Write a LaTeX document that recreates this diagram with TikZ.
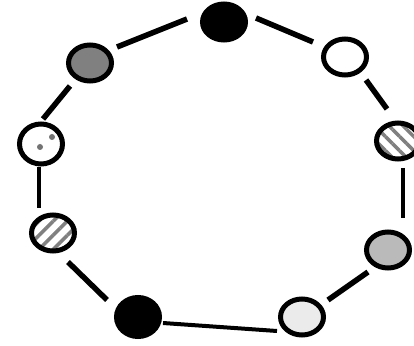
\documentclass[tikz,border=0pt]{standalone}
\usetikzlibrary{shapes.geometric,patterns.meta}
\begin{document}
\begin{tikzpicture}[x=1pt,y=1pt,
    bead/.style={ellipse, draw, line width=5pt, minimum width=43pt, minimum height=36pt, inner sep=0pt, outer sep=0pt},
    striped/.style={preaction={fill=white}, pattern={Lines[angle=#1,distance=10pt,line width=3.5pt]}, pattern color=gray},
    link/.style={line width=5.5pt},
    thinlink/.style={line width=4pt}]
  \useasboundingbox (0,0) rectangle (414,345);
  % Ring of beads
  \node[bead, fill=black] (topB) at (224,323) {};
  \node[bead, fill=black!50] (darkG) at (90,282) {};
  \node[bead, fill=white] (whiteR) at (345,288) {};
  \node[bead, striped=-45] (hatchR) at (398,204) {};
  \node[bead, fill=black!27] (grayR) at (388,95) {};
  \node[bead, fill=black!8] (lightG) at (302,28) {};
  \node[bead, fill=black, minimum height=39pt] (blackB) at (138,28) {};
  \node[bead, striped=45] (hatchL) at (53,112) {};
  \node[bead, fill=white, minimum height=40pt, path picture={
      \fill[black!55] ([shift={(11,7)}]path picture bounding box.center) circle (3);
      \fill[black!55] ([shift={(-1,-3)}]path picture bounding box.center) circle (3);
    }] (dotL) at (41,201) {};
  % Links
  \draw[link] ([shift={(-37,3)}]topB.center) -- ([shift={(27,16)}]darkG.center);
  \draw[link] ([shift={(32,4)}]topB.center) -- ([shift={(-32,15)}]whiteR.center);
  \draw[link] ([shift={(21,-23)}]whiteR.center) -- ([shift={(-11,32)}]hatchR.center);
  \draw[thinlink] ([shift={(5,-27)}]hatchR.center) -- ([shift={(15,32)}]grayR.center);
  \draw[link] ([shift={(-20,-22)}]grayR.center) -- ([shift={(26,17)}]lightG.center);
  \draw[thinlink] ([shift={(-25,-14)}]lightG.center) -- ([shift={(25,-6)}]blackB.center);
  \draw[link] ([shift={(-31,17)}]blackB.center) -- ([shift={(15,-29)}]hatchL.center);
  \draw[thinlink] ([shift={(-14,25)}]hatchL.center) -- ([shift={(-2,-23)}]dotL.center);
  \draw[link] ([shift={(2,25)}]dotL.center) -- ([shift={(-20,-23)}]darkG.center);
\end{tikzpicture}
\end{document}
